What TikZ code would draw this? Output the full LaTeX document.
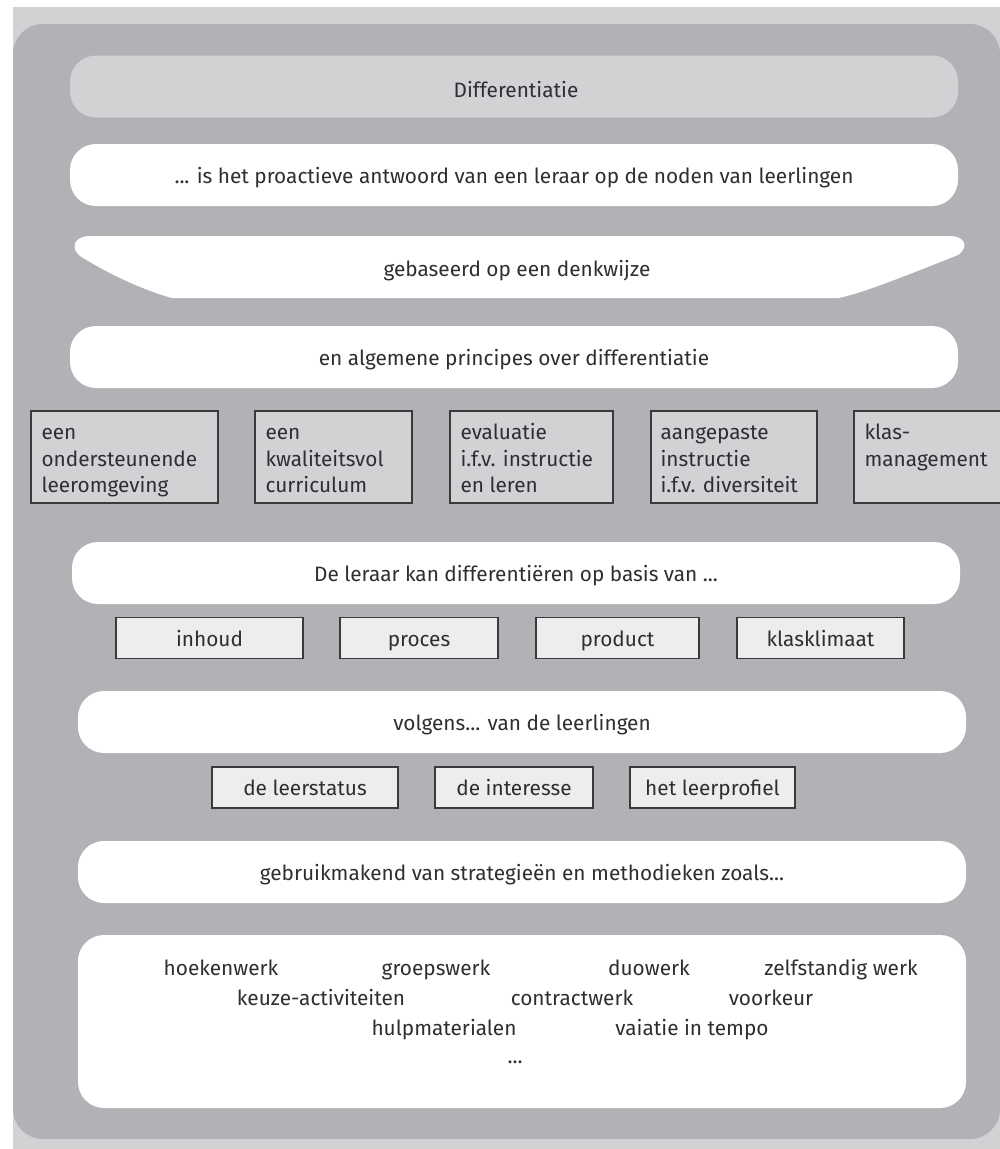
\documentclass[tikz,border=0pt]{standalone}
\usepackage{fontspec}
\setmainfont{Fira Sans}
\definecolor{darkbg}{HTML}{B1B2B5}
\definecolor{lightbg}{HTML}{D1D2D4}
\definecolor{boxfill}{HTML}{EDEDED}
\definecolor{boxline}{HTML}{3A3A3A}
\definecolor{txt}{HTML}{2E2E33}
\tikzset{
  tx/.style={text height=17pt, text depth=0.5pt},
  pill/.style={fill=white, rounded corners=26pt, inner sep=0pt, text=txt, tx,
    minimum width=888pt, minimum height=62pt},
  pbox/.style={draw=boxline, line width=1.3pt, fill=lightbg, inner sep=0pt,
    minimum height=92pt},
  ptext/.style={text=txt, align=left, inner sep=0pt, anchor=west,
    font=\fontsize{20.8}{26.5}\selectfont},
  sbox/.style={draw=boxline, line width=1.3pt, fill=boxfill, text=txt, tx,
    inner sep=0pt, minimum height=41pt},
  item/.style={text=txt, inner sep=0pt, tx}
}
\begin{document}
\begin{tikzpicture}[x=1pt,y=-1pt,font=\fontsize{20.8}{24}\selectfont]
\useasboundingbox (0,0) rectangle (1000,1149);
\clip (0,0) rectangle (1000,1149);
\fill[white] (0,0) rectangle (1000,1149);
\fill[lightbg] (13,7) rectangle (1000,1149);
\fill[darkbg, rounded corners=30pt] (13,24) rectangle (1000,1139);
% title rows
\node[pill, fill=lightbg] (diff) at (514,86.5) {};
\node[item] (difft) at (516,89) {Differentiatie};
\node[pill] (proact) at (514,175) {... is het proactieve antwoord van een leraar op de noden van leerlingen};
\fill[white] (90,236) -- (950,236)
  .. controls (964,236) and (970,246) .. (958,255)
  .. controls (900,278) and (860,294) .. (838,298)
  -- (172,298)
  .. controls (150,292) and (115,278) .. (80,256)
  .. controls (70,248) and (74,236) .. (90,236) -- cycle;
\node[item] (denk) at (517,268) {gebaseerd op een denkwijze};
\node[pill] (princ) at (514,357) {en algemene principes over differentiatie};
% five principle boxes
\node[pbox, minimum width=187pt] (p1) at (124.5,457) {};
\node[pbox, minimum width=157pt] (p2) at (333.5,457) {};
\node[pbox, minimum width=163pt] (p3) at (531.5,457) {};
\node[pbox, minimum width=166pt] (p4) at (734,457) {};
\node[pbox, minimum width=180pt] (p5) at (944,457) {};
\node[ptext] (t1) at ([xshift=11pt,yshift=-4pt]p1.west) {een\strut\\ondersteunende\strut\\leeromgeving\strut};
\node[ptext] (t2) at ([xshift=11pt,yshift=-4pt]p2.west) {een\strut\\kwaliteitsvol\strut\\curriculum\strut};
\node[ptext] (t3) at ([xshift=11pt,yshift=-4pt]p3.west) {evaluatie\strut\\i.f.v. instructie\strut\\en leren\strut};
\node[ptext] (t4) at ([xshift=10pt,yshift=-4pt]p4.west) {aangepaste\strut\\instructie\strut\\i.f.v. diversiteit\strut};
\node[ptext] (t5) at ([xshift=11pt,yshift=-4pt]p5.west) {klas-\strut\\management\strut\\\strut};
% differentiation
\node[pill] (basis) at (516,573) {De leraar kan differentiëren op basis van ...};
\node[sbox, minimum width=187pt] (inh) at (209.5,638) {inhoud};
\node[sbox, minimum width=158pt] (proc) at (419,638) {proces};
\node[sbox, minimum width=163pt] (prod) at (617.5,638) {product};
\node[sbox, minimum width=167pt] (klas) at (820.5,638) {klasklimaat};
\node[pill] (volg) at (522,722) {volgens... van de leerlingen};
\node[sbox, minimum width=186pt] (status) at (305,787.5) {de leerstatus};
\node[sbox, minimum width=158pt] (inter) at (514,787.5) {de interesse};
\node[sbox, minimum width=165pt] (profiel) at (712.5,787.5) {het leerprofiel};
\node[pill] (strat) at (522,872) {gebruikmakend van strategieën en methodieken zoals...};
\node[pill, minimum height=173pt] (methods) at (522,1021.5) {};
% methods
\node[item] (m1) at (221,967) {hoekenwerk};
\node[item] (m2) at (436,967) {groepswerk};
\node[item] (m3) at (649,967) {duowerk};
\node[item] (m4) at (841,967) {zelfstandig werk};
\node[item] (m5) at (321,997) {keuze-activiteiten};
\node[item] (m6) at (572,997) {contractwerk};
\node[item] (m7) at (771,997) {voorkeur};
\node[item] (m8) at (444,1027) {hulpmaterialen};
\node[item] (m9) at (692,1027) {vaiatie in tempo};
\node[item] (m10) at (515,1055) {...};
\end{tikzpicture}
\end{document}
